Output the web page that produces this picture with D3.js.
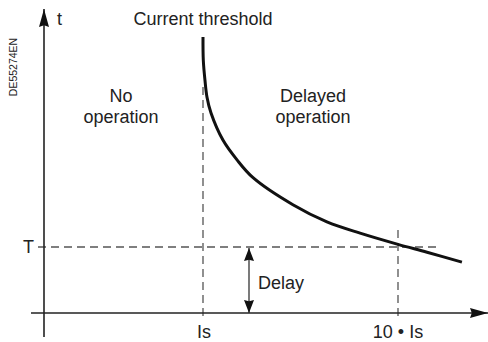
<!DOCTYPE html>
<html>
<head>
<meta charset="utf-8">
<script src="https://cdn.jsdelivr.net/npm/d3@7"></script>
<style>
  body { margin: 0; background: #fff; }
  svg { display: block; font-family: "Liberation Sans", Arial, sans-serif; }
</style>
</head>
<body>
<svg width="488" height="342"></svg>
<script>
// curve: current (multiples of Is) vs tripping time (multiples of T)
let curveI = [1.0, 1.014, 1.09, 1.185, 1.37, 1.92, 2.57, 3.31, 5.15, 6.72, 8.25, 10.0, 11.34, 12.95];
let curveT = [4.18, 3.83, 3.53, 3.27, 3.03, 2.62, 2.32, 2.05, 1.64, 1.38, 1.21, 1.04, 0.92, 0.77];
let thresholdI = 1, tenI = 10, delayT = 1;
let xTickLabels = ["Is", "10 • Is"];
let yTickLabels = ["T"];

let originX = 44, originY = 313;
let xAxisEnd = 488, yAxisTop = 9;

var svg = d3.select('svg');

// Is -> 203px, 10 Is -> 398px ; t: 0 -> axis, T -> 247px
var x = d3.scaleLinear().domain([thresholdI, tenI]).range([203, 398]);
var y = d3.scaleLinear().domain([0, delayT]).range([originY, 247]);

var defs = svg.append('defs');
function arrowMarker(id, color, w, h) {
    defs.append('marker')
        .attr('id', id)
        .attr('viewBox', `0 0 ${w} ${h}`)
        .attr('refX', w).attr('refY', h / 2)
        .attr('markerWidth', w).attr('markerHeight', h)
        .attr('markerUnits', 'userSpaceOnUse')
        .attr('orient', 'auto-start-reverse')
        .append('path')
        .attr('d', `M0,0 L${w},${h / 2} L0,${h} L${w * 0.1},${h / 2} Z`)
        .attr('fill', color);
}
arrowMarker('axisArrow', '#111', 18, 10);
arrowMarker('delayArrow', '#111', 13, 10);

var dash = '8,5';

// dashed guides
svg.append('line')
    .attr('x1', x(thresholdI)).attr('x2', x(thresholdI))
    .attr('y1', 87).attr('y2', originY + 5)
    .attr('stroke', '#555').attr('stroke-width', 1.3).attr('stroke-dasharray', dash);
svg.append('line')
    .attr('x1', x(tenI)).attr('x2', x(tenI))
    .attr('y1', 230).attr('y2', originY + 5)
    .attr('stroke', '#555').attr('stroke-width', 1.3).attr('stroke-dasharray', dash);
svg.append('line')
    .attr('x1', 38).attr('x2', 436)
    .attr('y1', y(delayT)).attr('y2', y(delayT))
    .attr('stroke', '#555').attr('stroke-width', 1.3).attr('stroke-dasharray', dash);

// axes
svg.append('line')
    .attr('x1', originX).attr('x2', originX)
    .attr('y1', 337).attr('y2', yAxisTop)
    .attr('stroke', '#222').attr('stroke-width', 1.6)
    .attr('marker-end', 'url(#axisArrow)');
svg.append('line')
    .attr('x1', 31).attr('x2', xAxisEnd)
    .attr('y1', originY).attr('y2', originY)
    .attr('stroke', '#222').attr('stroke-width', 1.6)
    .attr('marker-end', 'url(#axisArrow)');

// delay arrow
svg.append('line')
    .attr('x1', 249).attr('x2', 249)
    .attr('y1', y(0)).attr('y2', y(delayT) + 1)
    .attr('stroke', '#333').attr('stroke-width', 1.3)
    .attr('marker-start', 'url(#delayArrow)')
    .attr('marker-end', 'url(#delayArrow)');

// tripping curve
var curveData = curveI.map((d, i) => ({i: d, t: curveT[i]}));
svg.append('path')
    .datum(curveData)
    .attr('d', d3.line().x(d => x(d.i)).y(d => y(d.t)).curve(d3.curveCatmullRom.alpha(0.5)))
    .attr('fill', 'none')
    .attr('stroke', '#111')
    .attr('stroke-width', 3);

// labels
var fs = 18;
function label(txt, px, py, anchor) {
    return svg.append('text')
        .attr('x', px).attr('y', py)
        .attr('text-anchor', anchor || 'middle')
        .attr('font-size', fs)
        .attr('fill', '#222')
        .text(txt);
}
label('t', 57, 25, 'start');
label('Current threshold', x(thresholdI), 25);
label('No', 121, 102);
label('operation', 121, 123);
label('Delayed', 313, 102);
label('operation', 313, 123);
label(yTickLabels[0], 34, y(delayT) + 6, 'end');
label('Delay', 258, 289, 'start');
label(xTickLabels[0], x(thresholdI) + 1, 338);
label(xTickLabels[1], x(tenI), 338);

svg.append('text')
    .attr('transform', 'translate(17,67) rotate(-90)')
    .attr('text-anchor', 'middle')
    .attr('font-size', 10.5)
    .attr('fill', '#222')
    .text('DE55274EN');
</script>
</body>
</html>
